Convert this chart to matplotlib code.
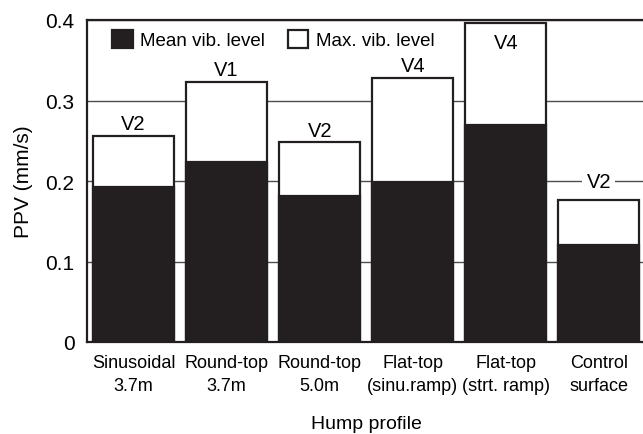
import numpy as np
import matplotlib
matplotlib.use('Agg')
import matplotlib.pyplot as plt
from matplotlib.patches import Patch

plt.rcParams['font.family'] = ['Liberation Sans', 'DejaVu Sans']
plt.rcParams['font.size'] = 13.5

# data
profiles = ['Sinusoidal\n3.7m', 'Round-top\n3.7m', 'Round-top\n5.0m',
            'Flat-top\n(sinu.ramp)', 'Flat-top\n(strt. ramp)', 'Control\nsurface']
mean_vib = [0.193, 0.224, 0.181, 0.199, 0.269, 0.121]
max_vib = [0.256, 0.323, 0.248, 0.328, 0.396, 0.177]
vehicle = ['V2', 'V1', 'V2', 'V4', 'V4', 'V2']

black = '#231f20'

fig = plt.figure(figsize=(6.43, 4.35), dpi=100)
ax = fig.add_axes([87 / 643, 92 / 435, 558.5 / 643, 322 / 435])

x = np.arange(len(profiles))
w = 0.87
ax.bar(x, max_vib, w, color='white', edgecolor=black, linewidth=1.6, zorder=3)
ax.bar(x, mean_vib, w, color=black, edgecolor=black, linewidth=1.6, zorder=4)

# vehicle labels above (or inside) the bars
for xi, top, lab in zip(x, max_vib, vehicle):
    if top > 0.38:
        ax.annotate(lab, (xi, top), xytext=(0, -7), textcoords='offset points',
                    ha='center', va='top', fontsize=14.5, zorder=5)
    elif top < 0.2:
        ax.text(xi, 0.2, lab, ha='center', va='center', fontsize=14.5, zorder=5,
                bbox=dict(facecolor='white', edgecolor='none', pad=3))
    else:
        ax.annotate(lab, (xi, top), xytext=(0, 2), textcoords='offset points',
                    ha='center', va='bottom', fontsize=14.5, zorder=5)

ax.set_xlim(-0.5, 5.5)
ax.set_ylim(0, 0.4)
ax.set_yticks([0, 0.1, 0.2, 0.3, 0.4])
ax.set_yticklabels(['0', '0.1', '0.2', '0.3', '0.4'], fontsize=15)
ax.set_xticks(x)
ax.set_xticklabels(profiles, fontsize=13, linespacing=1.45)
ax.tick_params(axis='both', length=0)
ax.tick_params(axis='y', pad=9)
ax.tick_params(axis='x', pad=9)
ax.grid(axis='y', color='#4d4d4d', linewidth=1.0, zorder=1)
ax.set_axisbelow(True)

for s in ['left', 'bottom', 'top', 'right']:
    ax.spines[s].set_linewidth(1.6)
    ax.spines[s].set_color(black)

ax.set_xlabel('Hump profile', fontsize=14, labelpad=15)
ax.set_ylabel('PPV (mm/s)', fontsize=15, labelpad=9)

handles = [Patch(facecolor=black, edgecolor=black, linewidth=1.6),
           Patch(facecolor='white', edgecolor=black, linewidth=1.6)]
ax.legend(handles, ['Mean vib. level', 'Max. vib. level'], ncol=2,
          loc='upper left', bbox_to_anchor=(0.045, 0.97), frameon=False,
          borderpad=0, borderaxespad=0, handlelength=1.1, handleheight=1.1,
          handletextpad=0.4, columnspacing=1.2)

fig.savefig('out.png', dpi=100)
